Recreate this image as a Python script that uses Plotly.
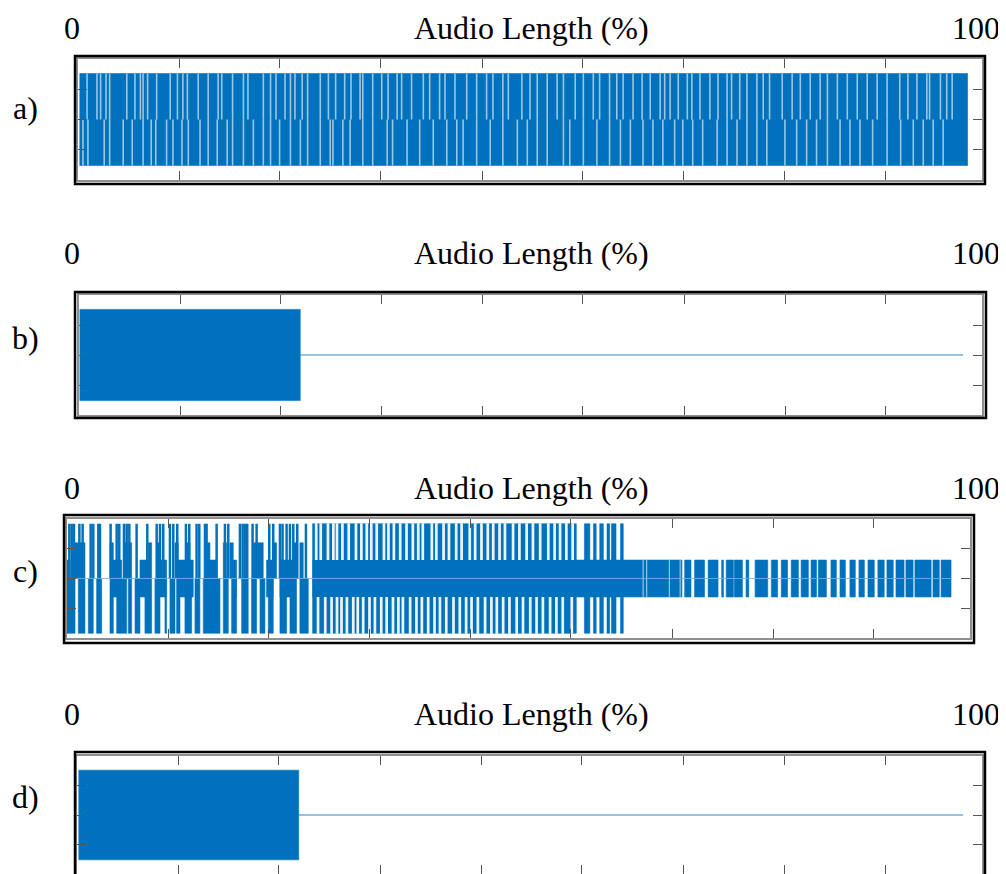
import plotly.graph_objects as go

W, H = 1006, 874
OFF = 8  # page body margin of the rendered html
BLUE = '#0072BD'
LINE_BLUE = 'rgba(110,170,222,0.95)'

# ---------------- data (x in % of audio length, y = amplitude) ----------------
TICKS_PCT = [11.2, 22.3, 33.5, 44.7, 55.8, 67.0, 78.2, 89.3]
Y_TICKS = [-0.5, 0, 0.5]

# panel a: continuous burst with light gaps in the upper / lower half
A_BURST = (0.2, 98.4, 0.76)
A_TOP_GAPS = [1.0, 2.1, 2.5, 3.1, 3.5, 5.4, 6.3, 6.9, 7.2, 7.7, 8.7, 10.2, 11.0, 11.6, 12.1,
              13.3, 14.4, 15.5, 15.9, 17.1, 18.3, 18.8, 20.5, 21.3, 21.9, 22.9, 23.5, 24.0,
              24.8, 25.4, 26.8, 27.7, 28.5, 29.5, 30.2, 31.2, 31.5, 32.6, 33.6, 34.3, 35.3,
              35.8, 36.9, 38.2, 38.9, 40.0, 40.6, 41.7, 43.0, 44.1, 45.2, 45.9, 47.0, 47.6,
              49.1, 50.0, 50.8, 51.9, 53.0, 53.7, 55.0, 55.9, 57.0, 57.7, 58.8, 59.6, 60.3,
              61.4, 62.4, 63.3, 64.4, 64.9, 65.5, 66.4, 67.4, 67.9, 68.8, 69.9, 70.8, 71.8,
              72.3, 73.2, 74.0, 75.1, 75.8, 76.5, 77.9, 79.0, 79.9, 81.0, 82.1, 82.9, 84.0,
              85.1, 86.2, 87.3, 88.4, 89.5, 90.9, 91.8, 92.8, 93.9, 94.2, 95.4, 96.1, 96.7]
A_BOTTOM_GAPS = [0.55, 1.1, 2.9, 3.5, 5.0, 6.0, 7.2, 8.1, 8.6, 9.8, 10.5, 11.5, 12.2, 13.5,
                 14.4, 15.4, 16.5, 17.1, 18.3, 19.4, 20.5, 21.3, 22.3, 23.5, 24.6, 25.4, 26.8,
                 27.9, 28.2, 29.3, 30.1, 31.5, 32.6, 34.2, 34.8, 36.4, 37.8, 39.3, 40.8, 41.9,
                 42.6, 44.1, 45.6, 47.0, 48.6, 49.7, 50.8, 51.9, 53.7, 54.4, 55.9, 57.4, 58.8,
                 60.0, 61.1, 62.5, 63.6, 64.7, 66.0, 66.9, 68.0, 69.1, 70.7, 71.8, 72.9, 74.0,
                 75.1, 76.2, 78.2, 79.5, 80.6, 81.7, 82.9, 84.3, 85.4, 86.5, 87.9, 89.5, 91.0,
                 92.4, 93.5, 94.6, 95.7]

# panels b and d: short burst followed by silence
B_BURST = (0.1, 24.5, 0.76)
B_SILENCE = (24.5, 97.9)
D_BURST = (0.2, 24.5, 0.76)
D_SILENCE = (24.5, 97.9)

# panel c
C_LEVEL = {'F': 0.92, 'M': 0.6, 'S': 0.31}
# region 1 (sparse speech-like part)
C_R1_TOP_F_LINES = [0.26, 0.52, 0.77, 1.37, 1.73, 2.62, 2.91, 3.47, 3.65, 4.83, 5.50, 5.79, 6.31,
                    6.61, 6.90, 7.71, 8.89, 9.93, 10.30, 10.66, 11.40, 11.77, 12.21, 13.17, 13.54,
                    14.35, 14.65, 15.28, 15.46, 16.57, 17.49, 17.86, 19.15, 19.45, 19.70, 19.96,
                    20.55, 21.00, 22.40, 22.84, 23.58, 23.87, 24.32, 24.69, 25.06, 25.50, 26.46]
C_R1_TOP_M = [(0.52, 1.99), (4.76, 5.13), (6.42, 7.16), (9.0, 9.37), (9.93, 10.30), (11.96, 12.32),
              (13.25, 13.62), (15.46, 15.83), (17.31, 17.68), (18.04, 18.41), (20.63, 21.73),
              (22.84, 23.21), (25.06, 25.42), (25.79, 26.16)]
C_R1_S = [(0.0, 0.33), (5.13, 6.05), (8.08, 9.0), (10.30, 11.03), (12.32, 13.98), (15.46, 16.57),
          (18.41, 18.78), (22.10, 22.84), (23.58, 25.06)]
C_R1_BOTTOM_F = [(0.0, 0.89), (1.25, 1.99), (2.36, 2.91), (3.28, 3.84), (4.76, 5.13), (5.50, 6.61),
                 (6.79, 7.16), (7.53, 8.08), (8.63, 9.37), (9.74, 10.30), (10.85, 11.03), (11.40, 11.96),
                 (12.14, 12.51), (13.06, 13.80), (14.17, 14.72), (15.09, 16.94), (17.31, 17.86),
                 (18.23, 18.78), (19.34, 20.07), (20.44, 21.0), (21.37, 21.92), (22.29, 22.84),
                 (23.58, 24.32), (24.69, 25.42), (25.79, 26.72)]
# region 2 (dense part)
C_R2_SPAN = (27.2, 56.4)
C_R2_TOP_GAPS = [27.6, 28.1, 28.9, 29.5, 29.9, 30.5, 31.2, 32.0, 32.6, 33.2, 33.7, 34.3, 35.1, 35.6,
                 36.2, 36.9, 37.6, 38.3, 38.9, 39.4, 40.4, 40.9, 41.7, 42.3, 43.1, 43.7, 44.6, 45.2,
                 45.9, 46.6, 47.2, 47.9, 48.5, 49.4, 50.1, 50.9, 51.6, 52.4, 53.3, 54.0, 54.6, 55.3, 56.0]
C_R2_BOTTOM_GAPS = [27.8, 28.6, 29.3, 29.9, 30.4, 31.0, 31.7, 32.2, 32.8, 33.5, 34.1, 34.8, 35.4, 36.1,
                    36.7, 37.2, 38.0, 38.7, 39.3, 40.0, 40.7, 41.3, 42.0, 42.8, 43.5, 44.2, 44.8, 45.5,
                    46.3, 47.0, 47.6, 48.3, 49.0, 49.8, 50.5, 51.3, 52.0, 52.7, 53.5, 54.2, 54.9, 55.9]
C_R2_TAIL_BARS = [(57.3, 57.9), (58.3, 58.6), (59.0, 59.4), (59.8, 60.1), (60.3, 60.8), (61.3, 61.6)]
# region 3 (low-level part)
C_BASE_SPAN = (27.2, 68.1)
C_BASE_GAPS = [63.8, 64.2, 66.7, 67.9]
C_R3_BARS = [(68.4, 69.1), (69.5, 70.6), (71.0, 72.1), (72.5, 72.7), (73.0, 73.8), (73.9, 74.8),
             (75.2, 75.5), (76.2, 77.6), (78.0, 78.7), (79.1, 79.8), (80.2, 81.0), (81.3, 82.1),
             (82.4, 83.0), (83.2, 84.1), (84.6, 85.2), (85.6, 86.2), (86.7, 87.3), (87.7, 88.3),
             (88.7, 89.4), (89.8, 90.5), (90.8, 91.5), (91.8, 92.7), (92.9, 93.7), (93.9, 95.7),
             (95.9, 96.6), (96.8, 97.9)]
C_SILENCE = (0.0, 98.0)

# ---------------- layout helpers (target pixel -> paper) ----------------
def px_x(p):
    return (p - OFF) / W

def px_y(p):
    return 1 - (p - OFF) / H

PANELS = {  # inner axes box in pixels: left, right, top, bottom
    'a': (78, 982, 59, 180),
    'b': (79, 982, 295, 415),
    'c': (67, 970, 519, 638),
    'd': (77, 982, 756, 874),
}
OUTER = {
    'a': (75, 985, 56, 184),
    'b': (75, 986, 292, 418),
    'c': (64, 974, 515, 643),
    'd': (75, 985, 752, 884),
}
HEADER_Y = {'a': 28, 'b': 253, 'c': 488, 'd': 714}
LETTER_Y = {'a': 108, 'b': 338, 'c': 571, 'd': 797}


def rect_path(items):
    xs, ys = [], []
    for x0, x1, yt, yb in items:
        xs += [x0, x1, x1, x0, x0, None]
        ys += [yt, yt, yb, yb, yt, None]
    return xs, ys


def fill_trace(items, axis, color=BLUE, lw=0.6):
    xs, ys = rect_path(items)
    return go.Scatter(x=xs, y=ys, mode='lines', fill='toself', fillcolor=color,
                      line=dict(color=color, width=lw), xaxis='x' + axis, yaxis='y' + axis,
                      hoverinfo='skip', showlegend=False)


def vline_trace(xs_in, y0, y1, axis, color, width):
    xs, ys = [], []
    for g in xs_in:
        xs += [g, g, None]
        ys += [y0, y1, None]
    return go.Scatter(x=xs, y=ys, mode='lines', line=dict(color=color, width=width),
                      xaxis='x' + axis, yaxis='y' + axis, hoverinfo='skip', showlegend=False)


def hline_trace(span, axis, color=LINE_BLUE, width=1.4):
    return go.Scatter(x=[span[0], span[1]], y=[0, 0], mode='lines', line=dict(color=color, width=width),
                      xaxis='x' + axis, yaxis='y' + axis, hoverinfo='skip', showlegend=False)


AX = {'a': '', 'b': '2', 'c': '3', 'd': '4'}
traces = []

# panel a
ax = AX['a']
x0, x1, amp = A_BURST
traces.append(fill_trace([(x0, x1, amp, -amp)], ax))
traces.append(vline_trace(A_TOP_GAPS, 0.0, amp, ax, 'rgba(255,255,255,0.6)', 1.6))
traces.append(vline_trace(A_BOTTOM_GAPS, -amp, 0.0, ax, 'rgba(255,255,255,0.6)', 1.6))

# panel b
ax = AX['b']
traces.append(hline_trace(B_SILENCE, ax))
x0, x1, amp = B_BURST
traces.append(fill_trace([(x0, x1, amp, -amp)], ax))

# panel d
ax = AX['d']
traces.append(hline_trace(D_SILENCE, ax))
x0, x1, amp = D_BURST
traces.append(fill_trace([(x0, x1, amp, -amp)], ax))

# panel c
ax = AX['c']
S, M, F = C_LEVEL['S'], C_LEVEL['M'], C_LEVEL['F']
items = [(a, b, S, -S) for a, b in C_R1_S]
items += [(a, b, M, 0) for a, b in C_R1_TOP_M]
items += [(a, b, 0, -F) for a, b in C_R1_BOTTOM_F]
items += [(C_R2_SPAN[0], C_R2_SPAN[1], F, -F)]
items += [(a, b, F, -F) for a, b in C_R2_TAIL_BARS]
items += [(C_BASE_SPAN[0], C_BASE_SPAN[1], S, -S)]
items += [(a, b, S, -S) for a, b in C_R3_BARS]
traces.append(fill_trace(items, ax))
traces.append(vline_trace(C_R1_TOP_F_LINES, 0, F, ax, BLUE, 2.5))
gap_w = 0.15
wt = 'rgba(255,255,255,0.92)'
traces.append(fill_trace([(g - gap_w, g + gap_w, F + 0.01, S) for g in C_R2_TOP_GAPS], ax, color=wt, lw=0))
traces.append(fill_trace([(g - gap_w, g + gap_w, -S, -F - 0.01) for g in C_R2_BOTTOM_GAPS], ax, color=wt, lw=0))
traces.append(vline_trace(C_BASE_GAPS, -S, S, ax, 'rgba(255,255,255,0.7)', 1.0))
traces.append(hline_trace(C_SILENCE, ax, color='rgba(120,175,225,0.85)', width=1.2))

fig = go.Figure(traces)

layout = dict(width=W, height=H, margin=dict(l=0, r=0, t=0, b=0),
              paper_bgcolor='white', plot_bgcolor='white', showlegend=False)
shapes = []
annotations = []
FONT = dict(family='Liberation Serif, Times New Roman, serif', size=32, color='black')
for key, (l, r, t, b) in PANELS.items():
    sfx = AX[key]
    xname = 'xaxis' + sfx
    yname = 'yaxis' + sfx
    ydom_bottom = max(0.0, px_y(b))
    common = dict(showline=True, linecolor='#8f8f8f', linewidth=1.5, mirror='allticks',
                  ticks='inside', ticklen=9, tickcolor='#555555', tickwidth=1,
                  showticklabels=False, showgrid=False, zeroline=False, fixedrange=True)
    layout[xname] = dict(domain=[px_x(l), px_x(r)], range=[0, 100], tickvals=TICKS_PCT,
                         anchor='y' + sfx, **common)
    layout[yname] = dict(domain=[ydom_bottom, px_y(t)], range=[-1, 1], tickvals=Y_TICKS,
                         anchor='x' + sfx, **common)
    ol, orr, ot, ob = OUTER[key]
    shapes.append(dict(type='rect', xref='paper', yref='paper', x0=px_x(ol), x1=px_x(orr),
                       y0=px_y(ob), y1=px_y(ot), line=dict(color='black', width=2.5)))
    hy = px_y(HEADER_Y[key])
    annotations.append(dict(text='0', x=px_x(72), y=hy, xref='paper', yref='paper',
                            showarrow=False, font=FONT, xanchor='center', yanchor='middle'))
    annotations.append(dict(text='Audio Length (%)', x=px_x(531), y=hy, xref='paper', yref='paper',
                            showarrow=False, font=FONT, xanchor='center', yanchor='middle'))
    annotations.append(dict(text='100', x=px_x(976), y=hy, xref='paper', yref='paper',
                            showarrow=False, font=FONT, xanchor='center', yanchor='middle'))
    annotations.append(dict(text=key + ')', x=px_x(25), y=px_y(LETTER_Y[key]), xref='paper',
                            yref='paper', showarrow=False, font=FONT, xanchor='center', yanchor='middle'))

layout['shapes'] = shapes
layout['annotations'] = annotations
fig.update_layout(**layout)
fig.write_html('out.html')
